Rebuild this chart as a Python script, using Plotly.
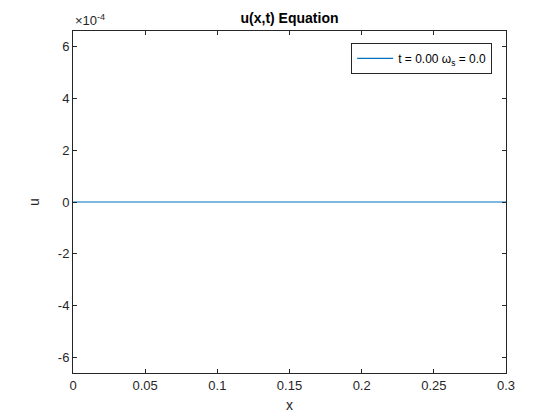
import plotly.graph_objects as go

x_vals = [0.0, 0.3]
u_vals = [0.0, 0.0]
x_ticks = [0, 0.05, 0.1, 0.15, 0.2, 0.25, 0.3]
x_tick_labels = ["0", "0.05", "0.1", "0.15", "0.2", "0.25", "0.3"]
y_ticks = [-6e-4, -4e-4, -2e-4, 0, 2e-4, 4e-4, 6e-4]
y_tick_labels = ["-6", "-4", "-2", "0", "2", "4", "6"]
legend_label = "t = 0.00 ω<sub>s</sub> = 0.0"

fig = go.Figure()
fig.add_trace(go.Scatter(x=x_vals, y=u_vals, mode="lines", name=legend_label,
                         line=dict(color="#0072BD", width=1.2)))

axis_common = dict(showline=True, linecolor="#262626", linewidth=1, mirror="ticks",
                   ticks="inside", ticklen=4, tickcolor="#262626", showgrid=False,
                   zeroline=False, automargin=False,
                   tickfont=dict(size=13, color="#262626"))
fig.update_xaxes(range=[0, 0.3], tickvals=x_ticks, ticktext=x_tick_labels,
                 title=dict(text="x", font=dict(size=14, color="#262626"), standoff=8),
                 **axis_common)
fig.update_yaxes(range=[-6.6e-4, 6.6e-4], tickvals=y_ticks, ticktext=y_tick_labels,
                 title=dict(text="u", font=dict(size=14, color="#262626"), standoff=14),
                 **axis_common)

fig.add_annotation(text="×10<sup>-4</sup>", xref="paper", yref="paper", x=0, y=1,
                   xanchor="left", yanchor="bottom", yshift=1, showarrow=False,
                   font=dict(size=13, color="#262626"))

fig.update_layout(
    width=560, height=420,
    margin=dict(l=73, r=54, t=31, b=47, autoexpand=False),
    paper_bgcolor="white", plot_bgcolor="white",
    font=dict(family="Liberation Sans, Arial, sans-serif", color="#262626"),
    title=dict(text="<b>u(x,t) Equation</b>", x=0.5, xref="paper", xanchor="center",
               y=1 - 18 / 420, yanchor="middle", font=dict(size=14, color="black")),
    showlegend=True,
    legend=dict(x=0.968, y=0.965, xanchor="right", yanchor="top",
                bordercolor="#262626", borderwidth=1, bgcolor="white",
                font=dict(size=12, color="black"), itemwidth=36,
                tracegroupgap=0),
)

fig.write_html("out.html", config={"displayModeBar": False},
               post_script="document.body.style.margin='0';document.body.style.overflow='hidden';")
